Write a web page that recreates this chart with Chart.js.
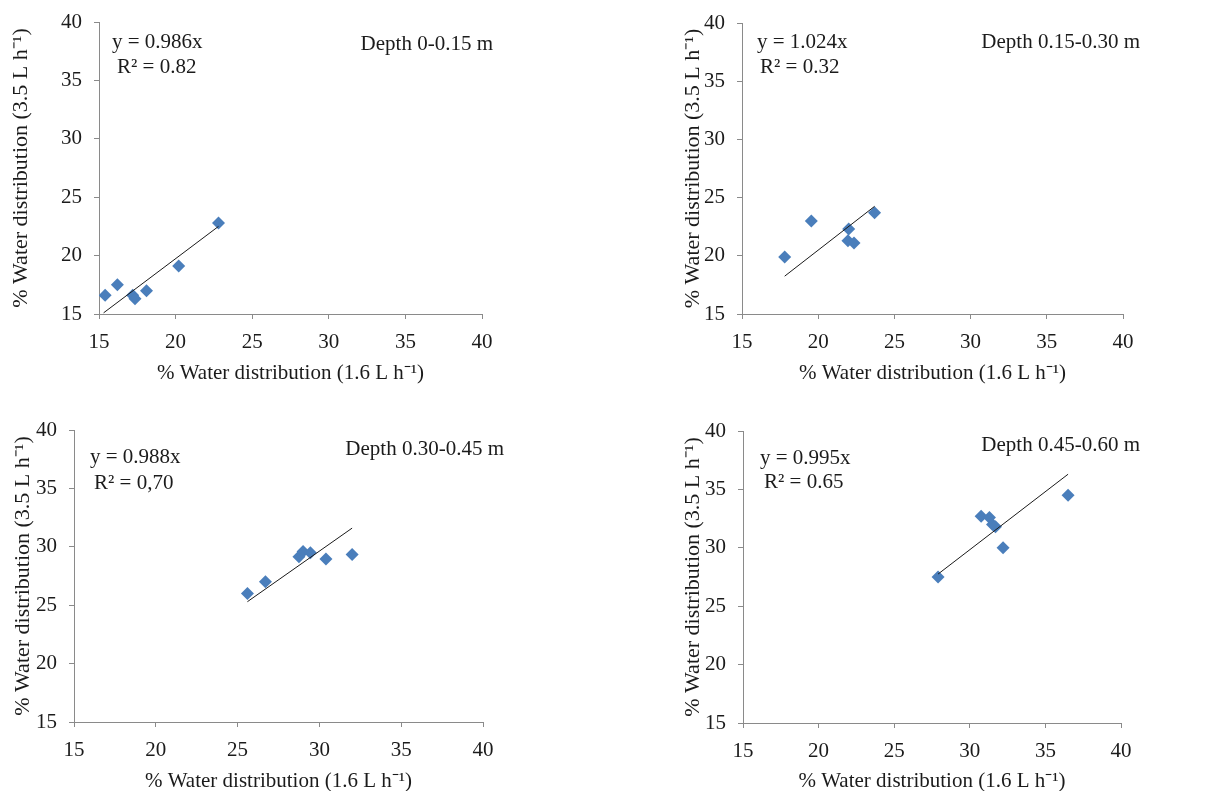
<!DOCTYPE html>
<html>
<head>
<meta charset="utf-8">
<script src="https://cdn.jsdelivr.net/npm/chart.js@4.4.1/dist/chart.umd.min.js"></script>
<style>
  html, body { margin: 0; padding: 0; background: #fff; }
  #wrap { position: relative; width: 1220px; height: 791px; overflow: hidden; }
  .panel { position: absolute; }
</style>
</head>
<body>
<div id="wrap">
  <div class="panel" style="left:0;top:0;width:610px;height:395px"><canvas id="c1"></canvas></div>
  <div class="panel" style="left:610px;top:0;width:610px;height:395px"><canvas id="c2"></canvas></div>
  <div class="panel" style="left:0;top:395px;width:610px;height:396px"><canvas id="c3"></canvas></div>
  <div class="panel" style="left:610px;top:395px;width:610px;height:396px"><canvas id="c4"></canvas></div>
</div>
<script>
// data (x = 1.6 L/h, y = 3.5 L/h)
const axisTicks = [15, 20, 25, 30, 35, 40];

const d1x = [15.4, 16.2, 17.2, 17.35, 18.1, 20.2, 22.8];
const d1y = [16.6, 17.5, 16.6, 16.3, 17.0, 19.1, 22.8];
const t1x = [15.3, 22.8];
const t1y = [15.1, 22.5];

const d2x = [17.8, 19.55, 22.0, 21.95, 22.35, 23.7];
const d2y = [19.9, 23.0, 22.3, 21.3, 21.1, 23.7];
const t2x = [17.8, 23.7];
const t2y = [18.25, 24.25];

const d3x = [25.6, 26.7, 28.75, 29.0, 29.45, 30.4, 32.0];
const d3y = [26.0, 27.0, 29.15, 29.6, 29.5, 28.95, 29.35];
const t3x = [25.6, 32.0];
const t3y = [25.3, 31.6];

const d4x = [27.9, 30.75, 31.3, 31.5, 31.7, 32.2, 36.5];
const d4y = [27.5, 32.7, 32.6, 32.0, 31.8, 30.0, 34.5];
const t4x = [27.9, 36.5];
const t4y = [27.75, 36.3];

const eqTexts = ["y = 0.986x", "y = 1.024x", "y = 0.988x", "y = 0.995x"];
const r2Texts = ["R\u00b2 = 0.82", "R\u00b2 = 0.32", "R\u00b2 = 0,70", "R\u00b2 = 0.65"];
const depthTexts = ["Depth 0-0.15 m", "Depth 0.15-0.30 m", "Depth 0.30-0.45 m", "Depth 0.45-0.60 m"];

const xTitle = "% Water distribution (1.6 L h\u207b\u00b9)";
const yTitle = "% Water distribution (3.5 L h\u207b\u00b9)";

// styling
const FONT = "'Liberation Serif', 'Times New Roman', serif";
const FS = 21;
const FS_YT = 22;
const TXT = "#1b1b1b";
const AXIS = "#8a8a8a";
const MARK = "#4a7ebb";

// box geometry per canvas: chart area edges, title offsets, text positions
const panels = [
  { id: "c1", w: 610, h: 395, left: 99, top: 22, right: 482, bottom: 314, yTitlePad: 8, xTitlePad: 9,
    eq: [112, 42], r2: [117, 67], depth: [493, 44] },
  { id: "c2", w: 610, h: 395, left: 132, top: 23, right: 513, bottom: 314, yTitlePad: 70, xTitlePad: 9,
    eq: [147, 42], r2: [150, 67], depth: [530, 42] },
  { id: "c3", w: 610, h: 396, left: 74, top: 35, right: 483, bottom: 327, yTitlePad: 10, xTitlePad: -3,
    eq: [90, 62], r2: [94, 88], depth: [504, 54] },
  { id: "c4", w: 610, h: 396, left: 133, top: 36, right: 511, bottom: 328, yTitlePad: 70, xTitlePad: -3,
    eq: [150, 63], r2: [154, 87], depth: [530, 50] }
];

const series = [[d1x, d1y, t1x, t1y], [d2x, d2y, t2x, t2y], [d3x, d3y, t3x, t3y], [d4x, d4y, t4x, t4y]];

function pts(xs, ys) {
  return xs.map((x, i) => ({ x: x, y: ys[i] }));
}

// equation, R2 and depth labels
const notesPlugin = {
  id: "notes",
  afterDraw(chart) {
    const k = chart.options.plugins.notes.k;
    const p = panels[k];
    const ctx = chart.ctx;
    ctx.save();
    ctx.fillStyle = TXT;
    ctx.font = FS + "px " + FONT;
    ctx.textBaseline = "middle";
    ctx.textAlign = "left";
    ctx.fillText(eqTexts[k], p.eq[0], p.eq[1]);
    ctx.fillText(r2Texts[k], p.r2[0], p.r2[1]);
    ctx.textAlign = "right";
    ctx.fillText(depthTexts[k], p.depth[0], p.depth[1]);
    ctx.restore();
  }
};

function buildChart(k) {
  const p = panels[k];
  const s = series[k];
  const canvas = document.getElementById(p.id);
  canvas.width = p.w;
  canvas.height = p.h;

  const axisCommon = {
    type: "linear",
    min: 15,
    max: 40,
    afterBuildTicks: (scale) => { scale.ticks = axisTicks.map(v => ({ value: v })); },
    grid: { drawOnChartArea: false, drawTicks: true, tickLength: 5, color: AXIS, lineWidth: 1 },
    border: { display: true, color: AXIS, width: 1 }
  };

  new Chart(canvas, {
    type: "scatter",
    data: {
      datasets: [
        {
          type: "line",
          data: pts(s[2], s[3]),
          borderColor: "#1a1a1a",
          borderWidth: 1,
          pointRadius: 0,
          fill: false
        },
        {
          data: pts(s[0], s[1]),
          pointStyle: "rectRot",
          pointRadius: 6.5,
          backgroundColor: MARK,
          borderColor: MARK,
          borderWidth: 0
        }
      ]
    },
    options: {
      responsive: false,
      animation: false,
      layout: { padding: { left: 0, top: p.top, right: p.w - p.right, bottom: 0 } },
      plugins: { legend: { display: false }, tooltip: { enabled: false }, notes: { k: k } },
      scales: {
        x: Object.assign({}, axisCommon, {
          position: "bottom",
          ticks: { color: TXT, padding: 11, font: { family: FONT, size: FS } },
          title: { display: true, text: xTitle, color: TXT, font: { family: FONT, size: FS },
                   padding: { top: 0, bottom: p.xTitlePad } },
          afterFit: (scale) => {
            scale.height = p.h - p.bottom;
            scale.paddingLeft = 0; scale.paddingRight = 0;
          }
        }),
        y: Object.assign({}, axisCommon, {
          position: "left",
          ticks: { color: TXT, padding: 12, font: { family: FONT, size: FS } },
          title: { display: true, text: yTitle, color: TXT, font: { family: FONT, size: FS_YT },
                   padding: { top: p.yTitlePad, bottom: 0 } },
          afterFit: (scale) => {
            scale.width = p.left;
            scale.paddingTop = 0; scale.paddingBottom = 0;
          }
        })
      }
    },
    plugins: [notesPlugin]
  });
}

for (let k = 0; k < panels.length; k++) buildChart(k);
</script>
</body>
</html>
